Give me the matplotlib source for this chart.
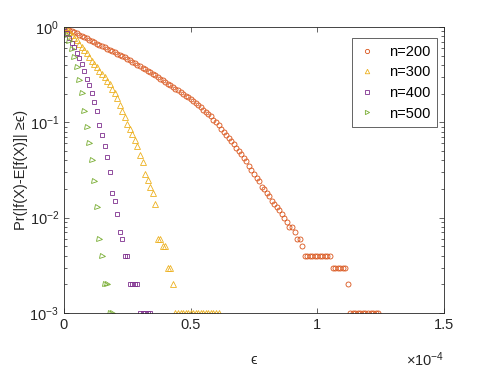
import numpy as np
import matplotlib
matplotlib.use('Agg')
import matplotlib.pyplot as plt
from matplotlib.ticker import FuncFormatter, LogLocator, NullFormatter

# tail probabilities, one value per grid step of epsilon
eps_step = 1e-6

p200 = [1.000, 0.970, 0.940, 0.912, 0.884, 0.857, 0.831, 0.806, 0.782, 0.758,
        0.735, 0.713, 0.691, 0.671, 0.651, 0.631, 0.612, 0.594, 0.576, 0.559,
        0.542, 0.526, 0.510, 0.495, 0.480, 0.465, 0.448, 0.432, 0.416, 0.401,
        0.387, 0.373, 0.359, 0.346, 0.334, 0.322, 0.310, 0.299, 0.288, 0.276,
        0.265, 0.254, 0.244, 0.234, 0.225, 0.216, 0.207, 0.199, 0.191, 0.183,
        0.175, 0.167, 0.159, 0.151, 0.144, 0.136, 0.129, 0.123, 0.116, 0.107,
        0.100, 0.093, 0.086, 0.080, 0.074, 0.069, 0.064, 0.059, 0.054, 0.050,
        0.046, 0.042, 0.039, 0.035, 0.032, 0.029, 0.026, 0.024, 0.021, 0.020,
        0.018, 0.017, 0.015, 0.014, 0.013, 0.012, 0.011, 0.010, 0.009, 0.008,
        0.008, 0.007, 0.006, 0.006, 0.005,
        0.004, 0.004, 0.004, 0.004, 0.004, 0.004, 0.004, 0.004, 0.004, 0.004, 0.004,
        0.003, 0.003, 0.003, 0.003, 0.003, 0.003,
        0.002,
        0.001, 0.001, 0.001, 0.001, 0.001, 0.001, 0.001, 0.001, 0.001, 0.001, 0.001, 0.001]

p300 = [1.000, 0.942, 0.885, 0.829, 0.775, 0.722, 0.670, 0.620, 0.573, 0.528,
        0.485, 0.443, 0.409, 0.378, 0.348, 0.321, 0.301, 0.273, 0.252, 0.222,
        0.201, 0.179, 0.152, 0.132, 0.113, 0.096, 0.085, 0.075, 0.065, 0.056,
        0.045, 0.038, 0.029, 0.025, 0.021, 0.018, 0.014, 0.006, 0.006, 0.005,
        0.005, 0.003, 0.003, 0.002,
        0.001, 0.001, 0.001, 0.001, 0.001, 0.001, 0.001, 0.001, 0.001, 0.001,
        0.001, 0.001, 0.001, 0.001, 0.001, 0.001, 0.001, 0.001]

p400 = [1.000, 0.871, 0.767, 0.684, 0.610, 0.537, 0.468, 0.409, 0.345, 0.285,
        0.246, 0.204, 0.162, 0.130, 0.094, 0.074, 0.056, 0.043, 0.030, 0.018,
        0.015, 0.011, 0.007, 0.006, 0.004, 0.004,
        0.002, 0.002, 0.002, 0.002,
        0.001, 0.001, 0.001, 0.001, 0.001]

p500 = [1.000, 0.824, 0.718, 0.583, 0.481, 0.383, 0.278, 0.201, 0.132, 0.090,
        0.061, 0.040, 0.024, 0.013, 0.006, 0.004, 0.002, 0.002, 0.001, 0.001]

labels = ['n=200', 'n=300', 'n=400', 'n=500']

plt.rcParams['font.family'] = ['Liberation Sans', 'DejaVu Sans']
plt.rcParams['mathtext.fontset'] = 'custom'
plt.rcParams['mathtext.rm'] = 'Liberation Sans'
plt.rcParams['mathtext.it'] = 'Liberation Sans:italic'

fs = 10.5
fig = plt.figure(figsize=(4.91, 3.68), dpi=100)
ax = fig.add_axes([0.1303, 0.1495, 0.774, 0.7771])

series = [
    (p200, 'o', '#D95319', 3.6),
    (p300, '^', '#EDB120', 3.8),
    (p400, 's', '#7E2F8E', 2.8),
    (p500, '>', '#77AC30', 3.6),
]
for (p, marker, color, ms), lab in zip(series, labels):
    eps = np.arange(len(p)) * eps_step
    ax.semilogy(eps, p, linestyle='none', marker=marker, markersize=ms,
                markerfacecolor='none', markeredgecolor=color,
                markeredgewidth=0.6, label=lab)

ax.set_xlim(0, 1.5e-4)
ax.set_ylim(1e-3, 1)

# x ticks shown in units of 1e-4, MATLAB style
ax.set_xticks([0, 0.5e-4, 1e-4, 1.5e-4])
ax.xaxis.set_major_formatter(FuncFormatter(lambda v, pos: f"{v * 1e4:g}"))
ax.text(1.0, -0.13, r'$\times10^{-4}$', transform=ax.transAxes,
        ha='right', va='top', fontsize=fs, color='#262626')

ax.yaxis.set_major_locator(LogLocator(base=10, numticks=10))
ax.yaxis.set_minor_locator(LogLocator(base=10, subs=np.arange(2, 10), numticks=10))
ax.yaxis.set_minor_formatter(NullFormatter())
ax.yaxis.set_major_formatter(FuncFormatter(lambda v, pos: r'$10^{%d}$' % int(round(np.log10(v)))))

ax.tick_params(which='both', direction='in', top=True, right=True,
               colors='#262626', labelsize=fs, width=0.5)
ax.tick_params(which='major', length=3.5)
ax.tick_params(which='minor', length=2)
for s in ax.spines.values():
    s.set_color('#262626')
    s.set_linewidth(0.6)

ax.set_xlabel('ϵ', fontsize=fs, color='#262626', labelpad=15)
ax.set_ylabel('Pr(|f(X)-E[f(X)]| ≥ϵ)', fontsize=fs, color='#262626', labelpad=1)

leg = ax.legend(loc='upper right', bbox_to_anchor=(0.982, 0.9605),
                borderaxespad=0, fancybox=False, framealpha=1,
                edgecolor='#262626', fontsize=fs, handlelength=1.2,
                handletextpad=0.9, labelspacing=0.45, borderpad=0.45,
                markerscale=0.85)
leg.get_frame().set_linewidth(0.5)

fig.savefig('out.png', dpi=100)
